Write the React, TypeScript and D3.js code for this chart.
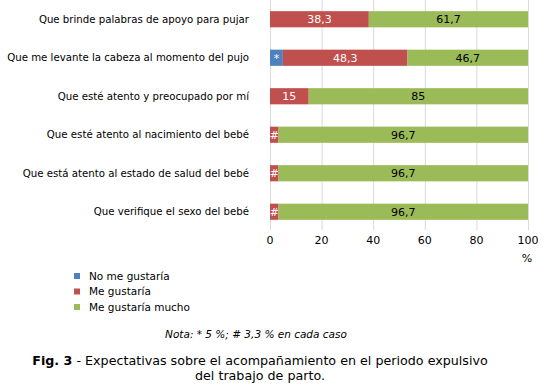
import { useRef, useEffect } from 'react'
import * as d3 from 'd3'

const categories = [
  "Que brinde palabras de apoyo para pujar",
  "Que me levante la cabeza al momento del pujo",
  "Que esté atento y preocupado por mí",
  "Que esté atento al nacimiento del bebé",
  "Que está atento al estado de salud del bebé",
  "Que verifique el sexo del bebé",
]

const seriesNames = ["No me gustaría", "Me gustaría", "Me gustaría mucho"]
const noMeGustaria = [0, 5, 0, 0, 0, 0]
const meGustaria = [38.3, 48.3, 15, 3.3, 3.3, 3.3]
const meGustariaMucho = [61.7, 46.7, 85, 96.7, 96.7, 96.7]
const xTicks = [0, 20, 40, 60, 80, 100]

const colors = ["#4F81BD", "#C0504D", "#9BBB59"]
const labelColors = ["#fff", "#fff", "#000"]
const FONT = "'DejaVu Sans', Verdana, sans-serif"

// small values are marked with a symbol explained in the note
function labelFor(v: number) {
  if (v === 5) return "*"
  if (v === 3.3) return "#"
  return String(v).replace(".", ",")
}

export default function App() {
  const svgRef = useRef<SVGSVGElement>(null)
  const width = 548
  const height = 386

  useEffect(() => {
    if (!svgRef.current) return
    const svg = d3.select(svgRef.current)
    svg.selectAll("*").remove()

    const x = d3.scaleLinear().domain([0, 100]).range([270, 528])
    const y = d3.scaleBand<string>()
      .domain(categories)
      .range([0, 231])
      .paddingInner(0.58)
      .paddingOuter(0.29)

    const series = [noMeGustaria, meGustaria, meGustariaMucho]
    const rows = categories.map((c, i) => ({
      cat: c,
      s0: series[0][i],
      s1: series[1][i],
      s2: series[2][i],
    }))
    const stack = d3.stack<any>().keys(["s0", "s1", "s2"])(rows)

    // gridlines
    svg.append("g")
      .selectAll("line")
      .data(xTicks)
      .enter()
      .append("line")
      .attr("x1", d => x(d) + 0.5)
      .attr("x2", d => x(d) + 0.5)
      .attr("y1", 0)
      .attr("y2", 230)
      .attr("stroke", "#d9d9d9")
      .attr("stroke-width", 1)

    // bars
    stack.forEach((layer, si) => {
      const g = svg.append("g")
      g.selectAll("rect")
        .data(layer)
        .enter()
        .append("rect")
        .attr("x", d => x(d[0]))
        .attr("y", d => y(d.data.cat) || 0)
        .attr("width", d => x(d[1]) - x(d[0]))
        .attr("height", y.bandwidth())
        .attr("fill", colors[si])

      g.selectAll("text")
        .data(layer.filter(d => d[1] - d[0] > 0))
        .enter()
        .append("text")
        .attr("x", d => (x(d[0]) + x(d[1])) / 2)
        .attr("y", d => (y(d.data.cat) || 0) + y.bandwidth() / 2)
        .attr("dy", "0.36em")
        .attr("text-anchor", "middle")
        .attr("font-family", FONT)
        .attr("font-size", 11)
        .attr("fill", labelColors[si])
        .text(d => labelFor(+(d[1] - d[0]).toFixed(1)))
    })

    // category labels
    svg.append("g")
      .selectAll("text")
      .data(categories)
      .enter()
      .append("text")
      .attr("x", 249)
      .attr("y", d => (y(d) || 0) + y.bandwidth() / 2)
      .attr("dy", "0.36em")
      .attr("text-anchor", "end")
      .attr("font-family", FONT)
      .attr("font-size", 10.2)
      .attr("fill", "#000")
      .text(d => d)

    // x tick labels
    svg.append("g")
      .selectAll("text")
      .data(xTicks)
      .enter()
      .append("text")
      .attr("x", d => x(d))
      .attr("y", 244)
      .attr("text-anchor", "middle")
      .attr("font-family", FONT)
      .attr("font-size", 11)
      .attr("fill", "#000")
      .text(d => d)

    svg.append("text")
      .attr("x", 527)
      .attr("y", 262)
      .attr("text-anchor", "middle")
      .attr("font-family", FONT)
      .attr("font-size", 11)
      .text("%")

    // legend
    const legend = svg.append("g")
    seriesNames.forEach((name, i) => {
      const ly = 276 + i * 15.5
      legend.append("rect")
        .attr("x", 74)
        .attr("y", ly - 3)
        .attr("width", 6)
        .attr("height", 6)
        .attr("fill", colors[i])
      legend.append("text")
        .attr("x", 89)
        .attr("y", ly)
        .attr("dy", "0.36em")
        .attr("font-family", FONT)
        .attr("font-size", 10.5)
        .text(name)
    })

    svg.append("text")
      .attr("x", 256)
      .attr("y", 338)
      .attr("text-anchor", "middle")
      .attr("font-family", FONT)
      .attr("font-size", 10.5)
      .attr("font-style", "italic")
      .text("Nota: * 5 %; # 3,3 % en cada caso")

    const cap = svg.append("text")
      .attr("x", 260)
      .attr("y", 365)
      .attr("text-anchor", "middle")
      .attr("font-family", FONT)
      .attr("font-size", 12.7)
    cap.append("tspan").attr("font-weight", "bold").text("Fig. 3")
    cap.append("tspan").text(" - Expectativas sobre el acompañamiento en el periodo expulsivo")

    svg.append("text")
      .attr("x", 260)
      .attr("y", 380)
      .attr("text-anchor", "middle")
      .attr("font-family", FONT)
      .attr("font-size", 12.7)
      .text("del trabajo de parto.")
  }, [])

  return (
    <svg
      ref={svgRef}
      width={width}
      height={height}
      style={{ position: 'absolute', left: 0, top: 0, background: '#fff' }}
    />
  )
}
